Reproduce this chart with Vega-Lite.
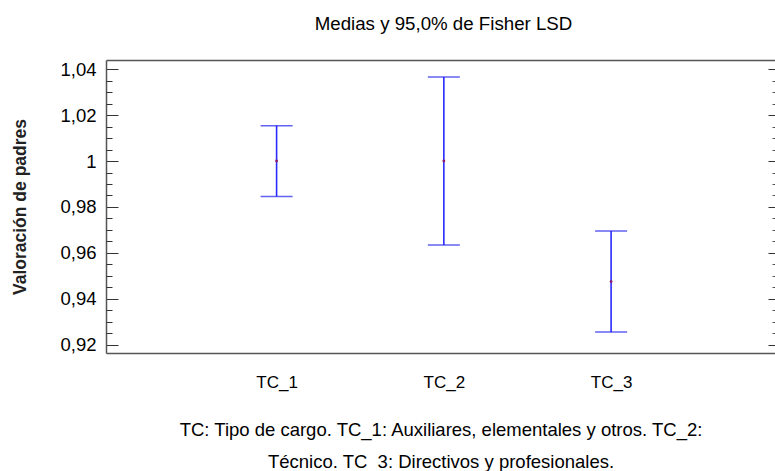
{
  "$schema": "https://vega.github.io/schema/vega-lite/v6.json",
  "autosize": "none",
  "width": 669,
  "height": 293,
  "padding": {"left": 106, "top": 60, "right": 0, "bottom": 118},
  "background": "white",
  "config": {
    "view": {"stroke": null},
    "font": "Liberation Sans",
    "axis": {"grid": false, "labelFont": "Liberation Sans", "titleFont": "Liberation Sans"}
  },
  "title": {
    "text": "Medias y 95,0% de Fisher LSD",
    "font": "Liberation Sans",
    "fontSize": 18.7,
    "fontWeight": "normal",
    "color": "#000000",
    "anchor": "middle",
    "dx": 3,
    "offset": 26
  },
  "data": {
    "values": [
      {"tc": "TC_1", "media": 1.0, "lo": 0.9846, "hi": 1.0154},
      {"tc": "TC_2", "media": 1.0, "lo": 0.9634, "hi": 1.0366},
      {"tc": "TC_3", "media": 0.9475, "lo": 0.9255, "hi": 0.9695}
    ]
  },
  "resolve": {"axis": {"x": "independent", "y": "independent"}},
  "layer": [
    {
      "mark": {"type": "rule", "color": "#2a2aff", "strokeWidth": 1.6},
      "encoding": {
        "x": {
          "field": "tc", "type": "nominal",
          "scale": {"type": "point", "padding": 1.097, "align": 0.51},
          "axis": {
            "orient": "bottom",
            "domain": true, "domainColor": "#555555", "domainWidth": 1.5,
            "ticks": false,
            "labelAngle": 0, "labelFontSize": 17, "labelColor": "#000000", "labelPadding": 21,
            "title": ["TC: Tipo de cargo. TC_1: Auxiliares, elementales y otros. TC_2:", "Técnico. TC_3: Directivos y profesionales."],
            "titleFontSize": 18.5, "titleFontWeight": "normal", "titleColor": "#000000",
            "titleLineHeight": 32, "titlePadding": 30
          }
        },
        "y": {
          "field": "lo", "type": "quantitative",
          "scale": {"domain": [0.9164, 1.044], "nice": false, "zero": false},
          "axis": {
            "orient": "left",
            "values": [0.92, 0.94, 0.96, 0.98, 1.0, 1.02, 1.04],
            "labelExpr": "replace(format(datum.value, '~g'), '.', ',')",
            "domain": true, "domainColor": "#555555", "domainWidth": 1.5,
            "tickSize": -12, "tickColor": "#333333", "tickWidth": 1,
            "labelFontSize": 18.5, "labelColor": "#000000", "labelPadding": 22,
            "title": "Valoración de padres",
            "titleFontSize": 17.5, "titleFontWeight": "bold", "titleColor": "#222222",
            "titlePadding": 30
          }
        },
        "y2": {"field": "hi"}
      }
    },
    {
      "mark": {"type": "tick", "color": "#2020ee", "thickness": 1.5, "size": 32},
      "encoding": {
        "x": {
          "field": "tc", "type": "nominal",
          "scale": {"type": "point", "padding": 1.097, "align": 0.51},
          "axis": {
            "orient": "top",
            "domain": true, "domainColor": "#555555", "domainWidth": 1.5,
            "ticks": false, "labels": false, "title": null
          }
        },
        "y": {
          "field": "hi", "type": "quantitative",
          "scale": {"domain": [0.9164, 1.044], "nice": false, "zero": false},
          "axis": {
            "orient": "left",
            "values": [0.925, 0.93, 0.935, 0.945, 0.95, 0.955, 0.965, 0.97, 0.975, 0.985, 0.99, 0.995, 1.005, 1.01, 1.015, 1.025, 1.03, 1.035],
            "domain": false, "labels": false, "title": null,
            "tickSize": -6, "tickColor": "#333333", "tickWidth": 1
          }
        }
      }
    },
    {
      "mark": {"type": "tick", "color": "#2020ee", "thickness": 1.5, "size": 32},
      "encoding": {
        "x": {
          "field": "tc", "type": "nominal",
          "scale": {"type": "point", "padding": 1.097, "align": 0.51},
          "axis": null
        },
        "y": {
          "field": "lo", "type": "quantitative",
          "scale": {"domain": [0.9164, 1.044], "nice": false, "zero": false},
          "axis": {
            "orient": "right",
            "values": [0.92, 0.94, 0.96, 0.98, 1.0, 1.02, 1.04],
            "domain": false, "labels": false, "title": null,
            "tickSize": -7, "tickColor": "#333333", "tickWidth": 1
          }
        }
      }
    },
    {
      "mark": {"type": "point", "filled": true, "color": "#8a1a66", "size": 8, "opacity": 1},
      "encoding": {
        "x": {
          "field": "tc", "type": "nominal",
          "scale": {"type": "point", "padding": 1.097, "align": 0.51},
          "axis": null
        },
        "y": {
          "field": "media", "type": "quantitative",
          "scale": {"domain": [0.9164, 1.044], "nice": false, "zero": false},
          "axis": {
            "orient": "right",
            "values": [0.925, 0.93, 0.935, 0.945, 0.95, 0.955, 0.965, 0.97, 0.975, 0.985, 0.99, 0.995, 1.005, 1.01, 1.015, 1.025, 1.03, 1.035],
            "domain": false, "labels": false, "title": null,
            "tickSize": -3, "tickColor": "#555555", "tickWidth": 1
          }
        }
      }
    }
  ]
}
